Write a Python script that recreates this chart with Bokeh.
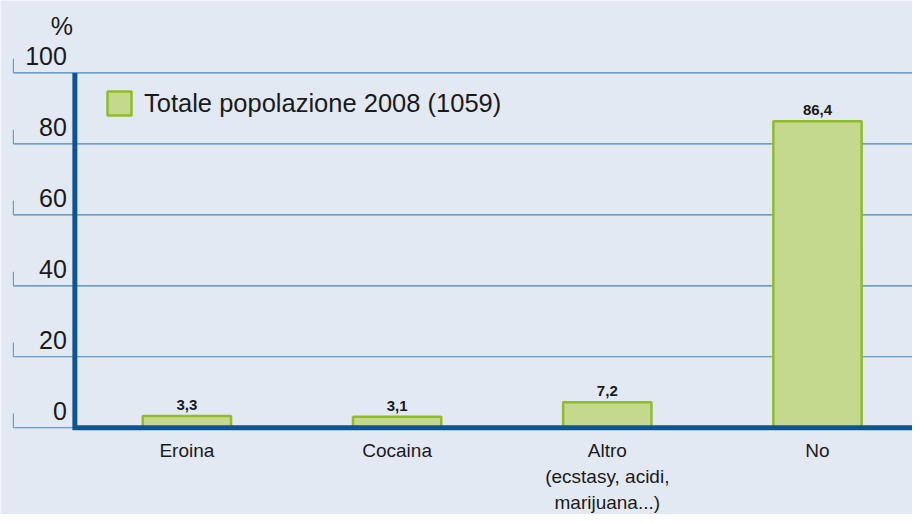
from bokeh.plotting import figure
from bokeh.models import Range1d, Legend, LegendItem
from bokeh.core.properties import value
from bokeh.embed import file_html
from bokeh.resources import INLINE

# ---- data ----
categories = ["Eroina", "Cocaina", "Altro\n(ecstasy, acidi,\nmarijuana...)", "No"]
values = [3.3, 3.1, 7.2, 86.4]
value_labels = [f"{v:.1f}".replace(".", ",") for v in values]
y_ticks = [0, 20, 40, 60, 80, 100]
y_tick_labels = ["0", "20", "40", "60", "80", "100"]
series_name = "Totale popolazione 2008 (1059)"
unit_label = "%"

# ---- style ----
BG = "#e3e9f3"
AXIS = "#0d5591"
GRID = "#4a84b7"
TICK = "#6e9ec8"
BAR_FILL = "#c5d98e"
BAR_LINE = "#8fbb2c"
TEXT = "#1a1a1a"
FONT = "Liberation Sans"

W, H = 912, 514
xs = list(range(len(categories)))
x_start, x_end = -0.8868, 3.452
y_start, y_end = -24.43, 120.4
x_axis = -0.533
x_grid0 = -0.8254

p = figure(width=W, height=H,
           x_range=Range1d(x_start, x_end), y_range=Range1d(y_start, y_end),
           x_axis_type=None, y_axis_type=None,
           output_backend="svg", toolbar_location=None,
           min_border=0, min_border_left=0, min_border_right=0,
           min_border_top=0, min_border_bottom=0,
           background_fill_color=BG, border_fill_color=BG,
           outline_line_color=None)
p.grid.visible = False

n = len(y_ticks)
# gridlines
p.segment(x0=[x_grid0] * n, y0=y_ticks, x1=[x_end] * n, y1=y_ticks,
          line_color=GRID, line_width=1.1)
# small tick marks at left end of gridlines
p.segment(x0=[x_grid0] * n, y0=y_ticks, x1=[x_grid0] * n,
          y1=[t + 4 for t in y_ticks], line_color=TICK, line_width=1.2)

# bars
bars = p.vbar(x=xs, top=values, bottom=0, width=0.42,
              fill_color=BAR_FILL, line_color=BAR_LINE, line_width=2.5)

# axis lines
p.line(x=[x_axis, x_axis, x_end], y=[y_ticks[-1], 0, 0],
       line_color=AXIS, line_width=5, line_join="miter")

# tick labels
p.text(x=[x_axis] * n, y=y_ticks, text=y_tick_labels,
       x_offset=-8, y_offset=-8, text_align="right", text_baseline="bottom",
       text_font=value(FONT), text_font_size="25px", text_color=TEXT)
p.text(x=[x_axis], y=[y_ticks[-1]], text=[unit_label],
       x_offset=-2, y_offset=-33, text_align="right", text_baseline="bottom",
       text_font=value(FONT), text_font_size="25px", text_color=TEXT)

# value labels
p.text(x=xs, y=values, text=value_labels, y_offset=-6,
       text_align="center", text_baseline="bottom",
       text_font=value(FONT), text_font_style="bold", text_font_size="15px",
       text_color=TEXT)

# category labels
p.text(x=xs, y=[0] * len(xs), text=categories, y_offset=12,
       text_align="center", text_baseline="top", text_line_height=1.24,
       text_font=value(FONT), text_font_size="19px", text_color=TEXT)

legend = Legend(items=[LegendItem(label=series_name, renderers=[bars])],
                location=(104, 396), orientation="vertical",
                glyph_width=30, glyph_height=30, label_height=30,
                label_standoff=10, padding=0, margin=0, spacing=0,
                label_text_font=FONT, label_text_font_size="25.5px",
                label_text_color=TEXT, label_text_baseline="middle",
                background_fill_alpha=0, border_line_alpha=0)
p.add_layout(legend)

open("out.html", "w").write(file_html(p, INLINE))
